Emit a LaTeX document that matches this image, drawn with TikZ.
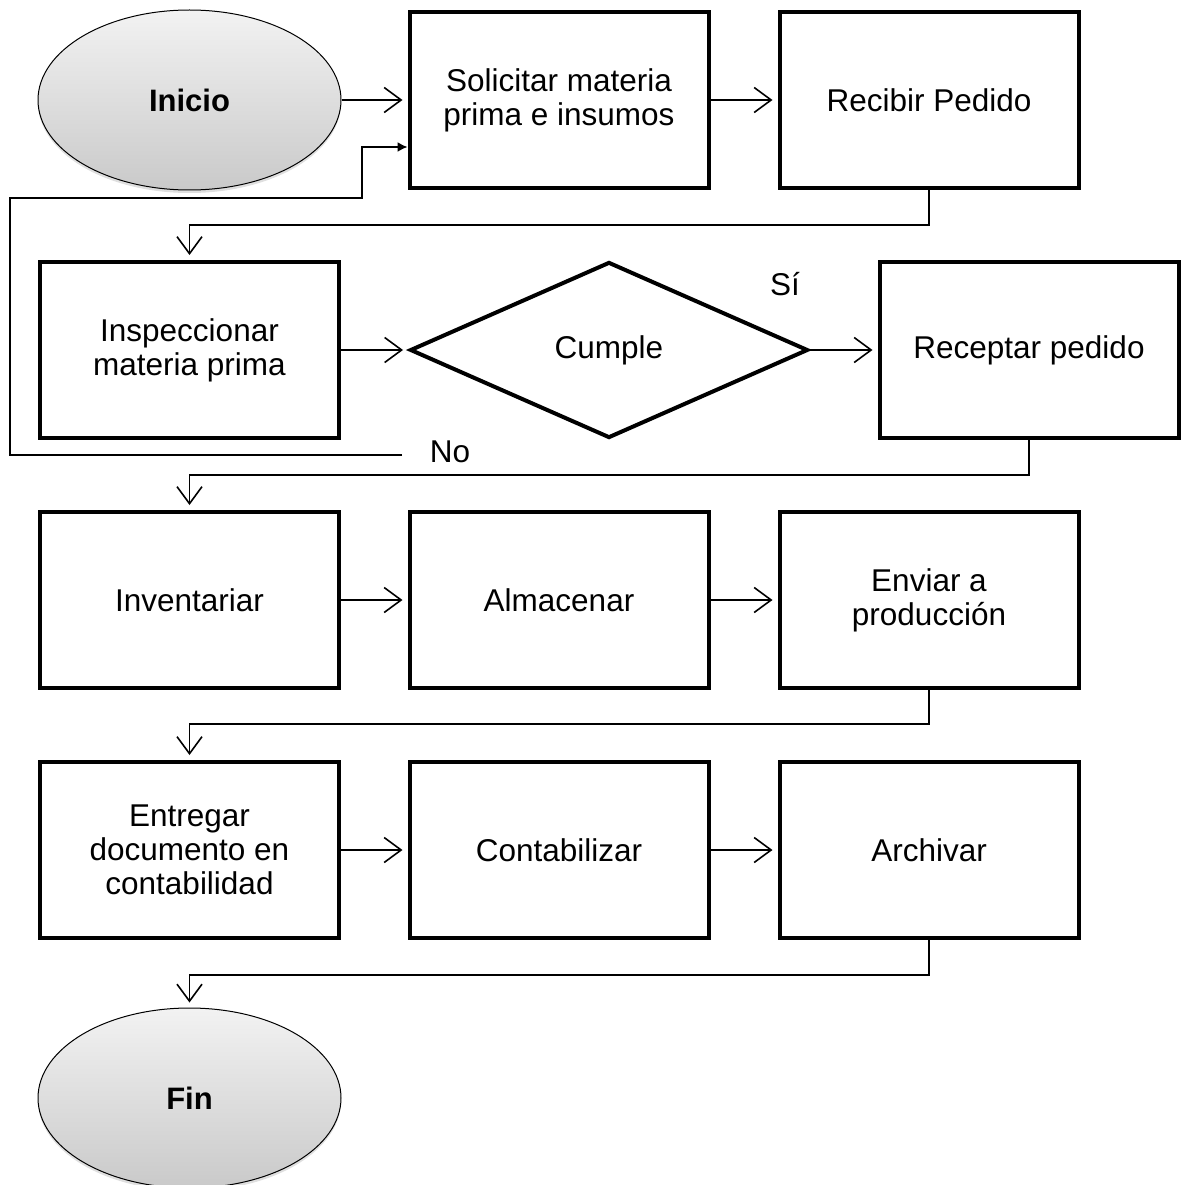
\documentclass[tikz,border=0pt]{standalone}
\usepackage{fontspec}
\setmainfont{Liberation Sans}
\usetikzlibrary{shapes.geometric,arrows.meta,shadows}
\begin{document}
\begin{tikzpicture}[x=1pt,y=-1pt,
  every node/.style={font=\fontsize{31.5}{34}\selectfont},
  procbox/.style={draw,line width=4pt,minimum width=299pt,minimum height=176pt,align=center,inner sep=4pt},
  term/.style={ellipse,draw,line width=1pt,minimum width=303pt,minimum height=180pt,
    top color=gray!10,bottom color=gray!42,font=\fontsize{31}{34}\selectfont\bfseries,
    drop shadow={opacity=0.25,shadow xshift=0pt,shadow yshift=-3pt}},
  decision/.style={diamond,draw,line width=4pt,minimum width=398pt,minimum height=176pt,inner sep=0pt,aspect=2.2},
  arr/.style={line width=1.6pt,-{Straight Barb[length=17pt,width=25pt,line width=1.6pt]},shorten >=5pt},
  farr/.style={line width=1.6pt,-{Latex[length=10pt,width=10pt]}},
  lbl/.style={inner sep=0pt}
]
\useasboundingbox (0,0) rectangle (1184,1185);
% nodes
\node[term] (inicio) at (189.5,100) {Inicio};
\node[procbox] (solic) at (559,100) {Solicitar materia\\prima e insumos};
\node[procbox] (recib) at (929,100) {Recibir Pedido};
\node[procbox] (insp) at (189.5,350) {Inspeccionar\\materia prima};
\node[decision] (cumple) at (609,350) {Cumple};
\node[procbox] (recep) at (1029,350) {Receptar pedido};
\node[procbox] (inv) at (189.5,600) {Inventariar};
\node[procbox] (alm) at (559,600) {Almacenar};
\node[procbox] (env) at (929,600) {Enviar a\\producción};
\node[procbox] (entr) at (189.5,850) {Entregar\\documento en\\contabilidad};
\node[procbox] (cont) at (559,850) {Contabilizar};
\node[procbox] (arch) at (929,850) {Archivar};
\node[term] (fin) at (189.5,1098) {Fin};
\node[lbl] (si) at (785,284) {Sí};
\node[lbl] (no) at (450,452) {No};
\coordinate (nostart) at (402,455);
% connectors
\draw[arr] (inicio.east) -- (solic.west);
\draw[arr] (solic.east) -- (recib.west);
\draw[arr] (recib.south) -- ++(0,35) -| (insp.north);
\draw[arr] (insp.east) -- (cumple.west);
\draw[arr] (cumple.east) -- (recep.west);
\draw[arr] (recep.south) -- ++(0,35) -| (inv.north);
\draw[arr] (inv.east) -- (alm.west);
\draw[arr] (alm.east) -- (env.west);
\draw[arr] (env.south) -- ++(0,34) -| (entr.north);
\draw[arr] (entr.east) -- (cont.west);
\draw[arr] (cont.east) -- (arch.west);
\draw[arr] (arch.south) -- ++(0,35) -| (fin.north);
\draw[farr] (nostart) -- (10,455) -- (10,198) -- (362,198) |- ([yshift=-47pt]solic.west);
\end{tikzpicture}
\end{document}
